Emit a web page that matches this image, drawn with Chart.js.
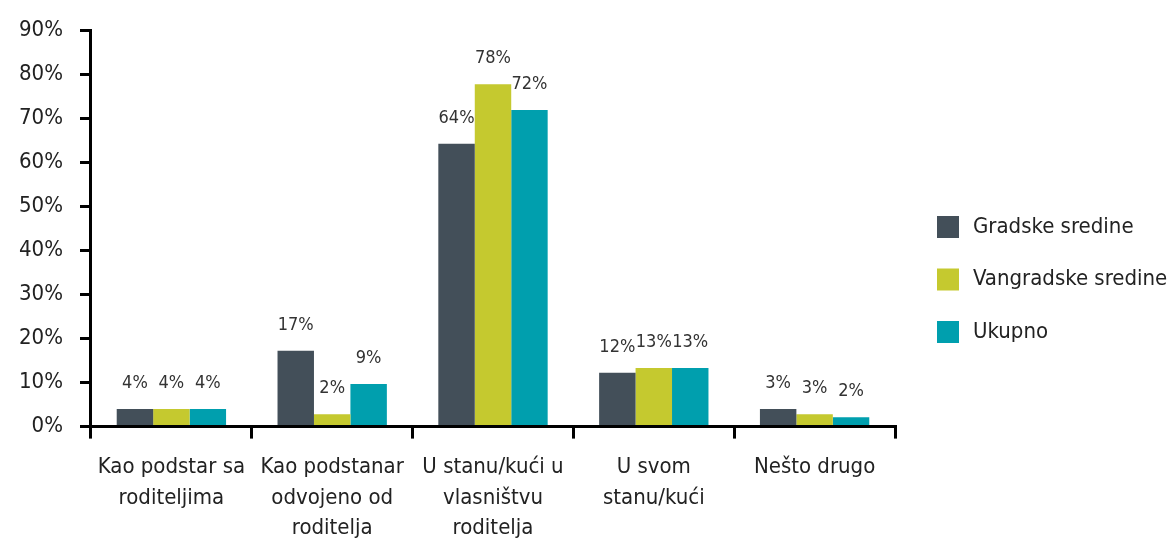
<!doctype html>
<html>
<head>
<meta charset="utf-8">
<title>Stanovanje</title>
<style>
  body { margin: 0; background: #fff; }
  #chart { display: block; }
</style>
</head>
<body>
<canvas id="chart" width="1176" height="542"></canvas>
<script src="https://cdn.jsdelivr.net/npm/chart.js"></script>
<script>
// kategorije (x osa)
const categories = [
  ['Kao podstar sa', 'roditeljima'],
  ['Kao podstanar', 'odvojeno od', 'roditelja'],
  ['U stanu/kući u', 'vlasništvu', 'roditelja'],
  ['U svom', 'stanu/kući'],
  ['Nešto drugo']
];
const seriesNames = ['Gradske sredine', 'Vangradske sredine', 'Ukupno'];

// visine stubaca (procenat)
const gradske = [4.0, 17.2, 64.2, 12.2, 4.0];
const vangradske = [4.0, 2.8, 77.7, 13.3, 2.8];
const ukupno = [4.0, 9.7, 71.9, 13.3, 2.1];

// natpisi iznad stubaca
const gradskeLabels = ['4%', '17%', '64%', '12%', '3%'];
const vangradskeLabels = ['4%', '2%', '78%', '13%', '3%'];
const ukupnoLabels = ['4%', '9%', '72%', '13%', '2%'];

const yTicks = [0, 10, 20, 30, 40, 50, 60, 70, 80, 90];

const FONT = "'Liberation Sans Narrow', 'DejaVu Sans Condensed', sans-serif";

// brojevi iznad stubaca
const barLabels = {
  id: 'barLabels',
  afterDatasetsDraw(chart) {
    const ctx = chart.ctx;
    ctx.save();
    ctx.font = '18px ' + FONT;
    ctx.fillStyle = '#333';
    ctx.textAlign = 'center';
    ctx.textBaseline = 'bottom';
    chart.data.datasets.forEach(function (ds, i) {
      const meta = chart.getDatasetMeta(i);
      meta.data.forEach(function (bar, j) {
        ctx.fillText(ds.labelsText[j], bar.x, bar.y - 17);
      });
    });
    ctx.restore();
  }
};

// legenda desno
const sideLegend = {
  id: 'sideLegend',
  afterDraw(chart) {
    const ctx = chart.ctx;
    const x = chart.chartArea.right + 42;
    const y0 = 227, step = 52.5;
    ctx.save();
    ctx.font = '22px ' + FONT;
    ctx.textAlign = 'left';
    ctx.textBaseline = 'middle';
    chart.data.datasets.forEach(function (ds, i) {
      const y = y0 + i * step;
      ctx.fillStyle = ds.backgroundColor;
      ctx.fillRect(x, y - 11, 22, 22);
      ctx.fillStyle = '#222';
      ctx.fillText(ds.label, x + 36, y);
    });
    ctx.restore();
  }
};

var ctx = document.getElementById('chart').getContext('2d');
var chart = new Chart(ctx, {
  type: 'bar',
  data: {
    labels: categories,
    datasets: [{
      label: seriesNames[0],
      data: gradske,
      labelsText: gradskeLabels,
      backgroundColor: '#434f59'
    }, {
      label: seriesNames[1],
      data: vangradske,
      labelsText: vangradskeLabels,
      backgroundColor: '#c5c92f'
    }, {
      label: seriesNames[2],
      data: ukupno,
      labelsText: ukupnoLabels,
      backgroundColor: '#009fae'
    }]
  },
  options: {
    responsive: false,
    animation: false,
    layout: { padding: { top: 22, left: 2, right: 281, bottom: -15 } },
    datasets: {
      bar: { categoryPercentage: 0.68, barPercentage: 1.0 }
    },
    plugins: {
      legend: { display: false },
      tooltip: { enabled: false }
    },
    scales: {
      x: {
        grid: {
          display: true,
          drawOnChartArea: false,
          offset: true,
          tickLength: 12,
          tickColor: '#000',
          lineWidth: 3
        },
        border: { display: true, color: '#000', width: 3 },
        ticks: {
          font: { family: FONT, size: 22, lineHeight: 1.4 },
          color: '#222',
          padding: 13,
          maxRotation: 0
        }
      },
      y: {
        min: 0,
        max: 90,
        afterBuildTicks(axis) {
          axis.ticks = yTicks.map(function (v) { return { value: v }; });
        },
        grid: {
          display: true,
          drawOnChartArea: false,
          tickLength: 11,
          tickColor: '#000',
          lineWidth: 3
        },
        border: { display: true, color: '#000', width: 3 },
        ticks: {
          font: { family: FONT, size: 22 },
          color: '#222',
          padding: 17,
          callback: function (v) { return v + '%'; }
        }
      }
    }
  },
  plugins: [barLabels, sideLegend]
});
</script>
</body>
</html>
